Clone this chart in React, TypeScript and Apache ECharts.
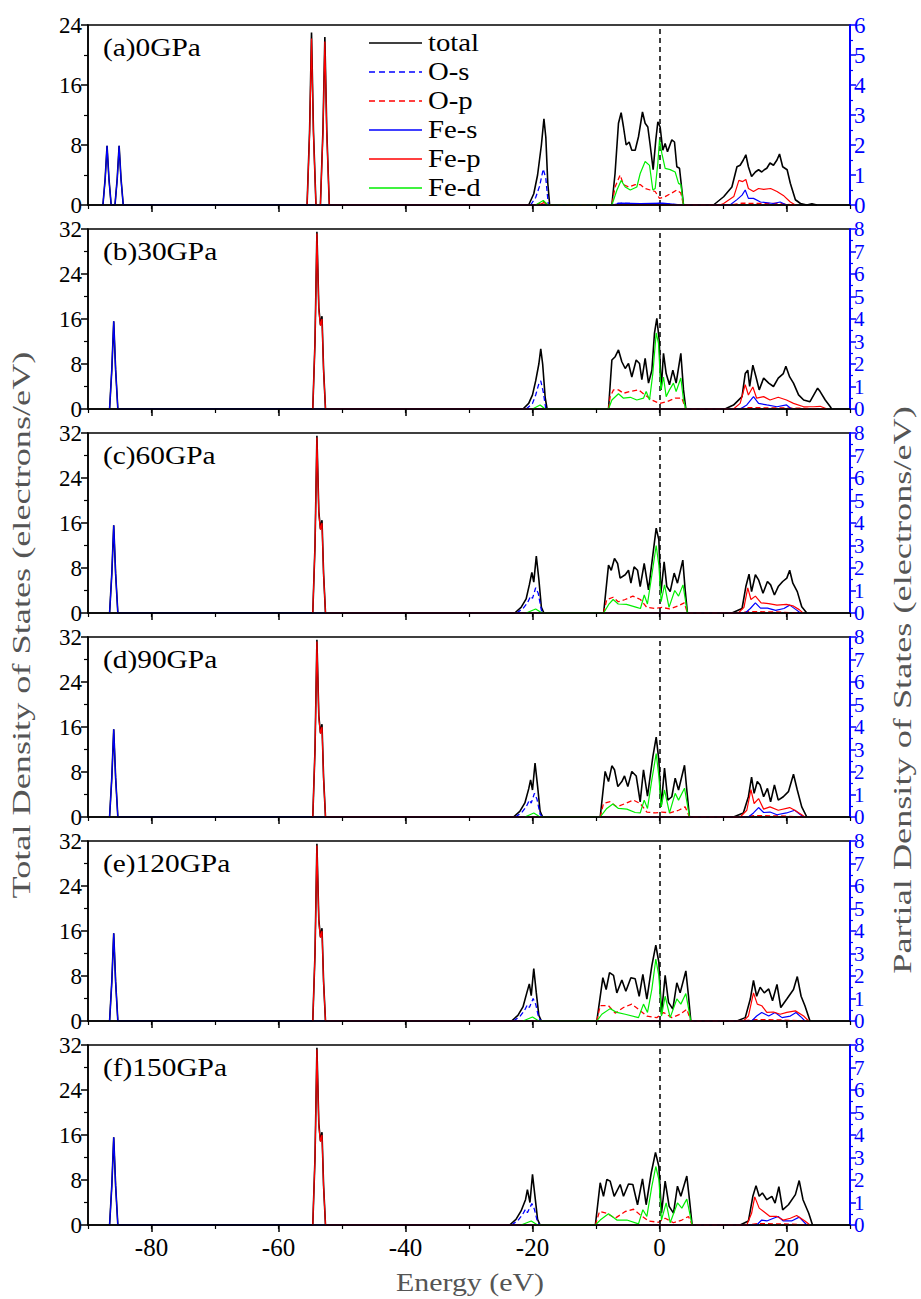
import React, { useEffect, useRef } from "react";
import * as echarts from "echarts";

type P = [number, number];

const FONT = "Liberation Serif";
const panelLabels = ["(a)0GPa", "(b)30GPa", "(c)60GPa", "(d)90GPa", "(e)120GPa", "(f)150GPa"];
const leftMax = [24, 32, 32, 32, 32, 32];
const rightMax = [6, 8, 8, 8, 8, 8];
const energyTicks = [-80, -60, -40, -20, 0, 20];
const seriesNames = ["total", "O-s", "O-p", "Fe-s", "Fe-p", "Fe-d"];

// ---------- core levels ----------
const coreTotalA: P[] = [
  [-87.65, 0], [-87.3, 3.5], [-87.0, 7.9], [-86.7, 3.5], [-86.35, 0],
  [-85.75, 0], [-85.4, 3.5], [-85.1, 7.9], [-84.8, 3.5], [-84.45, 0],
  [-55.5, 0], [-55.1, 10], [-54.8, 23.0], [-54.5, 10], [-54.1, 0],
  [-53.4, 0], [-53.0, 10], [-52.7, 22.4], [-52.4, 10], [-52.0, 0],
];
const coreFeSA: P[] = [
  [-87.65, 0], [-87.3, 0.85], [-87.0, 1.97], [-86.7, 0.85], [-86.35, 0],
  [-85.75, 0], [-85.4, 0.85], [-85.1, 1.97], [-84.8, 0.85], [-84.45, 0],
];
const coreFePA: P[] = [
  [-55.5, 0], [-55.1, 2.4], [-54.8, 5.55], [-54.5, 2.4], [-54.1, 0],
  [-53.4, 0], [-53.0, 2.4], [-52.7, 5.45], [-52.4, 2.4], [-52.0, 0],
];
const coreTotalHP: P[] = [
  [-86.6, 0], [-86.25, 7], [-85.95, 15.6], [-85.65, 7], [-85.3, 0],
  [-54.6, 0], [-54.25, 12], [-53.95, 31.5], [-53.65, 18], [-53.4, 15], [-53.15, 16.5], [-52.9, 7], [-52.6, 0],
];
const coreFeSHP: P[] = [[-86.6, 0], [-86.25, 1.75], [-85.95, 3.9], [-85.65, 1.75], [-85.3, 0]];
const coreFePHP: P[] = [
  [-54.6, 0], [-54.25, 3], [-53.95, 7.8], [-53.65, 4.4], [-53.4, 3.7], [-53.15, 4.0], [-52.9, 1.7], [-52.6, 0],
];

// ---------- panel (a) 0 GPa ----------
const totalA: P[] = [
  ...coreTotalA,
  [-20.6, 0], [-19.8, 1.5], [-19.2, 4], [-18.6, 8], [-18.2, 11.5], [-17.9, 9], [-17.6, 3], [-17.3, 0],
  [-7.5, 0], [-7.0, 4.2], [-6.46, 10.9], [-6.04, 12.3], [-5.67, 10.4], [-5.25, 8.0], [-4.78, 8.4], [-4.36, 7.3],
  [-3.83, 7.3], [-3.31, 9.1], [-2.68, 12.4], [-2.26, 10.9], [-1.84, 10.4], [-1.47, 8.0], [-1.0, 4.7], [-0.58, 8.7],
  [-0.26, 11.1], [0.1, 10.4], [0.52, 7.3], [0.89, 8.2], [1.26, 7.1], [1.94, 8.7], [2.36, 8.4], [2.73, 5.1],
  [3.15, 4.9], [3.78, 0],
  [8.5, 0], [10.1, 1.1], [11.4, 2.4], [12.2, 5.1], [12.7, 5.3], [13.2, 6.0], [13.6, 6.7], [14.0, 5.1], [14.5, 3.8],
  [15.1, 4.4], [15.6, 4.7], [16.1, 4.4], [16.5, 4.7], [16.9, 4.9], [17.4, 5.6], [17.95, 5.3], [18.5, 6.0], [18.9, 6.8],
  [19.4, 5.1], [20.1, 4.7], [20.6, 2.9], [21.4, 0.7], [22.2, 0.2], [23.2, 0], [24.0, 0.15], [24.8, 0],
];
const osA: P[] = [
  [-20.3, 0], [-19.5, 0.25], [-18.9, 0.62], [-18.3, 1.2], [-17.9, 0.88], [-17.5, 0],
  [-7.5, 0], [-6.5, 0.06], [-3.0, 0.04], [0, 0.05], [3.5, 0],
];
const opA: P[] = [
  [-19.5, 0], [-18.3, 0.12], [-17.5, 0],
  [-7.5, 0], [-7.0, 0.6], [-6.2, 1.0], [-5.67, 0.68], [-4.88, 0.6], [-3.83, 0.68], [-3.04, 0.68], [-2.26, 0.55],
  [-1.47, 0.5], [-0.68, 0.45], [0, 0.22], [0.89, 0.28], [1.94, 0.4], [2.73, 0.5], [3.36, 0.4], [3.78, 0],
  [11, 0], [13, 0.06], [16, 0.05], [19, 0.05], [21, 0],
];
const fesA: P[] = [
  ...coreFeSA,
  [-7.5, 0], [-6.0, 0.06], [-3.0, 0.05], [0.5, 0.06], [3.5, 0],
  [11.1, 0], [12.2, 0.18], [13.0, 0.33], [13.5, 0.5], [14.0, 0.22], [14.8, 0.22], [15.9, 0.1], [17.95, 0.05],
  [19.0, 0.1], [20.0, 0],
];
const fepA: P[] = [
  ...coreFePA,
  [-19.0, 0], [-18.2, 0.08], [-17.5, 0],
  [9.5, 0], [10.1, 0.05], [11.7, 0.28], [12.5, 0.82], [13.1, 0.78], [13.6, 0.85], [14.0, 0.55], [14.8, 0.45],
  [15.6, 0.55], [16.4, 0.52], [17.5, 0.55], [18.5, 0.45], [19.5, 0.32], [20.6, 0.1], [21.4, 0],
];
const fedA: P[] = [
  [-19.5, 0], [-18.3, 0.15], [-17.6, 0],
  [-7.5, 0], [-6.7, 0.5], [-6.04, 0.82], [-5.4, 0.6], [-4.6, 0.5], [-3.57, 0.6], [-3.04, 1.05], [-2.26, 1.45],
  [-1.57, 1.32], [-1.05, 0.5], [-0.68, 0.55], [-0.26, 1.4], [0, 2.18], [0.37, 1.72], [0.89, 1.22], [1.68, 1.18],
  [2.47, 1.1], [3.0, 0.72], [3.36, 0.68], [3.78, 0],
];

// ---------- panel (b) 30 GPa ----------
const totalB: P[] = [
  ...coreTotalHP,
  [-21.5, 0], [-20.6, 1], [-20.0, 2.5], [-19.5, 5], [-19.0, 8], [-18.7, 10.7], [-18.4, 8], [-18.0, 2], [-17.7, 0],
  [-8.03, 0], [-7.5, 8.7], [-6.98, 9.3], [-6.46, 10.5], [-5.93, 8.4], [-5.4, 7.2], [-4.88, 8.1], [-4.36, 5.7],
  [-3.67, 8.7], [-3.15, 8.1], [-2.78, 5.2], [-2.26, 9.0], [-1.73, 4.6], [-1.2, 6.9], [-0.79, 13.5], [-0.42, 16.1],
  [-0.05, 12.3], [0.26, 3.4], [0.63, 9.9], [1.05, 6.3], [1.57, 4.3], [2.1, 6.9], [2.62, 4.6], [3.36, 9.9],
  [3.78, 3.4], [4.15, 0],
  [10.3, 0], [11.65, 0.7], [13.0, 2.2], [13.5, 6.3], [13.9, 6.9], [14.2, 4.0], [14.7, 7.8], [15.2, 5.7], [15.7, 3.4],
  [16.4, 5.5], [17.2, 4.6], [17.95, 4.0], [18.7, 5.5], [19.5, 6.3], [19.9, 7.6], [20.5, 5.7], [21.1, 4.6], [21.9, 2.5],
  [22.7, 1.6], [23.7, 1.3], [24.9, 3.7], [25.3, 3.1], [26.1, 1.6], [26.9, 0.4], [27.1, 0],
];
const osB: P[] = [[-21.0, 0], [-20.0, 0.25], [-19.5, 0.62], [-19.0, 1.12], [-18.7, 1.25], [-18.3, 0.75], [-17.9, 0]];
const opB: P[] = [
  [-8.03, 0], [-7.77, 0.55], [-7.24, 0.85], [-6.46, 0.85], [-5.67, 0.7], [-4.6, 0.78], [-3.3, 0.85], [-2.26, 0.62],
  [-1.2, 0.4], [0, 0.25], [1.15, 0.32], [2.47, 0.48], [3.52, 0.48], [4.15, 0],
  [12, 0], [14, 0.06], [18, 0.05], [22, 0.04], [26, 0],
];
const fesB: P[] = [
  ...coreFeSHP,
  [12.7, 0], [13.75, 0.18], [14.8, 0.55], [15.6, 0.25], [16.9, 0.18], [18.5, 0.1], [20.0, 0.18], [20.8, 0],
];
const fepB: P[] = [
  ...coreFePHP,
  [11.65, 0], [12.7, 0.25], [13.5, 1.08], [14.0, 0.62], [14.7, 0.98], [15.3, 0.48], [16.4, 0.55], [17.4, 0.4],
  [18.7, 0.52], [20.0, 0.4], [21.1, 0.25], [22.7, 0.1], [24.3, 0.1], [25.3, 0.12], [26.4, 0],
];
const fedB: P[] = [
  [-20.0, 0], [-18.8, 0.18], [-18.0, 0],
  [-8.03, 0], [-7.5, 0.4], [-6.46, 0.68], [-5.67, 0.48], [-4.6, 0.52], [-3.57, 0.4], [-2.52, 0.48], [-2.1, 0.78],
  [-1.57, 0.4], [-1.05, 1.58], [-0.52, 3.38], [-0.16, 2.92], [0.21, 0.85], [0.63, 1.42], [1.05, 0.55], [1.57, 0.85],
  [2.2, 1.15], [2.62, 0.78], [3.36, 1.38], [3.78, 0.4], [4.15, 0],
];

// ---------- panel (c) 60 GPa ----------
const totalC: P[] = [
  ...coreTotalHP,
  [-22.8, 0], [-21.8, 1], [-21.0, 2.5], [-20.5, 5], [-20.1, 7.2], [-19.8, 5.5], [-19.4, 10.1], [-19.0, 6], [-18.6, 1], [-18.2, 0],
  [-8.8, 0], [-8.03, 8.5], [-7.6, 7.6], [-7.09, 9.7], [-6.6, 8.8], [-6.2, 6.2], [-5.4, 6.8], [-4.88, 7.6], [-4.5, 5.3],
  [-4.0, 8.2], [-3.46, 7.6], [-3.04, 4.7], [-2.41, 8.8], [-1.73, 4.1], [-1.05, 10.3], [-0.52, 15.1], [-0.1, 13.0],
  [0.21, 3.5], [0.73, 9.1], [1.15, 4.7], [1.68, 3.8], [2.31, 7.1], [2.83, 5.3], [3.67, 9.4], [4.04, 4.1], [4.4, 0],
  [11.4, 0], [13.0, 0.8], [13.6, 4.7], [14.1, 6.9], [14.5, 3.8], [15.1, 6.8], [15.6, 5.9], [16.3, 3.5], [17.0, 5.6],
  [17.5, 5.0], [18.1, 3.2], [18.7, 4.7], [19.4, 5.6], [20.05, 6.2], [20.5, 7.6], [21.0, 5.3], [21.7, 3.8], [22.4, 1.1],
  [23.2, 0],
];
const osC: P[] = [
  [-22.5, 0], [-21.5, 0.2], [-20.8, 0.45], [-20.3, 0.75], [-20.0, 0.65], [-19.5, 1.12], [-19.1, 0.88], [-18.6, 0.12], [-18.2, 0],
];
const opC: P[] = [
  [-8.8, 0], [-8.3, 0.6], [-7.3, 0.7], [-6.5, 0.5], [-5.4, 0.6], [-4.2, 0.75], [-3.0, 0.6], [-2.0, 0.25], [-0.7, 0.2],
  [0.4, 0.25], [1.6, 0.18], [3.0, 0.32], [3.9, 0.45], [4.4, 0],
  [12, 0], [14, 0.06], [18, 0.05], [22, 0],
];
const fesC: P[] = [
  ...coreFeSHP,
  [13.5, 0], [14.3, 0.2], [15.1, 0.45], [15.9, 0.22], [17.0, 0.22], [18.3, 0.12], [19.6, 0.2], [20.5, 0.35], [21.5, 0.15], [22.2, 0],
];
const fepC: P[] = [
  ...coreFePHP,
  [12.4, 0], [13.3, 0.25], [13.9, 1.12], [14.4, 0.6], [15.1, 0.75], [16.0, 0.45], [17.2, 0.42], [18.5, 0.35], [20.0, 0.38],
  [21.0, 0.32], [22.0, 0.15], [22.6, 0],
];
const fedC: P[] = [
  [-21.0, 0], [-19.5, 0.18], [-18.5, 0],
  [-8.8, 0], [-8.0, 0.38], [-7.3, 0.6], [-6.5, 0.4], [-5.2, 0.38], [-3.6, 0.25], [-3.0, 0.2], [-2.4, 0.8], [-1.9, 0.4],
  [-1.2, 1.7], [-0.52, 3.0], [-0.1, 2.12], [0.26, 0.5], [0.79, 1.25], [1.5, 0.25], [2.4, 1.0], [3.0, 0.75], [3.7, 1.25], [4.4, 0],
];

// ---------- panel (d) 90 GPa ----------
const totalD: P[] = [
  ...coreTotalHP,
  [-23.0, 0], [-22.0, 1], [-21.2, 2.5], [-20.6, 5], [-20.3, 6.6], [-20.0, 4.8], [-19.6, 9.6], [-19.2, 5.5], [-18.8, 1], [-18.4, 0],
  [-9.34, 0], [-8.56, 8.1], [-8.03, 6.3], [-7.5, 9.1], [-7.09, 8.4], [-6.56, 5.4], [-5.93, 6.3], [-5.51, 7.3], [-4.99, 5.4],
  [-4.36, 8.1], [-3.67, 7.3], [-3.04, 2.7], [-2.52, 8.4], [-1.89, 3.7], [-1.05, 10.7], [-0.52, 14.2], [-0.1, 10.1],
  [0.26, 1.8], [0.79, 8.7], [1.31, 3.0], [1.94, 3.6], [2.47, 6.9], [3.0, 4.8], [3.94, 9.2], [4.3, 4.8], [4.72, 0],
  [11.65, 0], [13.2, 0.7], [14.0, 3.6], [14.5, 7.1], [14.9, 4.2], [15.4, 6.3], [15.85, 5.7], [16.4, 3.6], [17.0, 5.1],
  [17.5, 2.7], [18.1, 5.7], [18.7, 3.0], [19.5, 3.6], [20.3, 4.5], [21.1, 7.6], [21.7, 4.8], [22.4, 1.8], [23.2, 0],
];
const osD: P[] = [
  [-22.7, 0], [-21.7, 0.2], [-21.0, 0.45], [-20.5, 0.75], [-20.2, 0.62], [-19.7, 1.05], [-19.3, 0.8], [-18.8, 0.12], [-18.4, 0],
];
const opD: P[] = [
  [-9.34, 0], [-8.82, 0.6], [-7.77, 0.68], [-6.72, 0.45], [-5.4, 0.6], [-4.1, 0.75], [-3.04, 0.6], [-1.99, 0.22],
  [-0.68, 0.18], [0.37, 0.22], [1.68, 0.18], [3.0, 0.3], [4.04, 0.45], [4.72, 0],
  [13, 0], [15, 0.06], [19, 0.05], [22.5, 0],
];
const fesD: P[] = [
  ...coreFeSHP,
  [14.0, 0], [14.8, 0.18], [15.6, 0.42], [16.4, 0.2], [17.4, 0.22], [18.5, 0.1], [20.0, 0.18], [21.3, 0.3], [22.2, 0.1], [22.7, 0],
];
const fepD: P[] = [
  ...coreFePHP,
  [12.7, 0], [13.75, 0.3], [14.4, 1.22], [14.9, 0.6], [15.6, 0.82], [16.4, 0.35], [17.4, 0.45], [18.7, 0.3], [20.5, 0.42],
  [21.3, 0.3], [22.4, 0.1], [22.9, 0],
];
const fedD: P[] = [
  [-21.2, 0], [-19.8, 0.18], [-18.8, 0],
  [-9.34, 0], [-8.3, 0.38], [-7.35, 0.58], [-6.46, 0.38], [-5.14, 0.35], [-3.83, 0.2], [-3.04, 0.18], [-2.41, 0.75],
  [-1.89, 0.38], [-1.21, 1.65], [-0.52, 2.82], [-0.1, 1.8], [0.26, 0.45], [0.79, 1.2], [1.57, 0.18], [2.47, 1.05],
  [3.0, 0.75], [3.94, 1.28], [4.72, 0],
];

// ---------- panel (e) 120 GPa ----------
const totalE: P[] = [
  ...coreTotalHP,
  [-23.3, 0], [-22.3, 1], [-21.5, 2.5], [-20.9, 5], [-20.5, 6.6], [-20.2, 4.5], [-19.8, 9.3], [-19.4, 5], [-19.0, 1], [-18.6, 0],
  [-9.87, 0], [-8.92, 7.7], [-8.4, 5.6], [-7.87, 8.6], [-7.24, 8.1], [-6.72, 5.0], [-5.93, 7.3], [-5.3, 5.3], [-4.51, 7.7],
  [-3.83, 7.5], [-3.2, 4.4], [-2.62, 8.3], [-1.99, 3.9], [-1.21, 9.8], [-0.58, 13.5], [-0.1, 10.4], [0.31, 1.2],
  [0.89, 8.1], [1.42, 3.3], [2.1, 2.1], [2.73, 6.8], [3.25, 5.0], [4.15, 8.9], [4.57, 4.4], [4.93, 0],
  [12.2, 0], [13.5, 0.6], [14.3, 3.9], [14.8, 7.2], [15.3, 4.4], [15.85, 6.0], [16.5, 5.0], [17.2, 5.7], [17.8, 3.6],
  [18.5, 6.5], [19.1, 2.4], [20.05, 3.9], [21.1, 5.6], [21.7, 7.9], [22.3, 4.4], [22.9, 2.7], [23.7, 0],
];
const osE: P[] = [
  [-23.0, 0], [-22.0, 0.2], [-21.3, 0.45], [-20.8, 0.72], [-20.5, 0.6], [-19.9, 1.0], [-19.5, 0.75], [-19.0, 0.12], [-18.6, 0],
];
const opE: P[] = [
  [-9.87, 0], [-9.34, 0.68], [-8.03, 0.68], [-6.98, 0.35], [-5.67, 0.6], [-4.36, 0.75], [-3.31, 0.52], [-1.99, 0.22],
  [-0.42, 0.15], [0.63, 0.38], [1.94, 0.15], [3.25, 0.3], [4.31, 0.52], [4.93, 0],
  [13, 0], [15, 0.06], [19, 0.05], [23, 0],
];
const fesE: P[] = [
  ...coreFeSHP,
  [14.5, 0], [15.3, 0.22], [16.1, 0.38], [17.2, 0.22], [18.2, 0.38], [19.3, 0.15], [20.6, 0.22], [21.5, 0.38], [22.4, 0.15], [22.9, 0],
];
const fepE: P[] = [
  ...coreFePHP,
  [13.2, 0], [14.0, 0.22], [14.8, 1.25], [15.4, 0.75], [16.1, 0.68], [16.9, 0.38], [17.95, 0.4], [19.0, 0.3], [20.05, 0.38],
  [21.4, 0.45], [22.7, 0.22], [23.5, 0],
];
const fedE: P[] = [
  [-21.5, 0], [-20.0, 0.18], [-19.0, 0],
  [-9.87, 0], [-9.08, 0.3], [-7.77, 0.55], [-6.72, 0.38], [-5.4, 0.3], [-3.31, 0.15], [-2.52, 0.75], [-1.89, 0.38],
  [-1.21, 1.4], [-0.58, 2.75], [-0.1, 2.0], [0.31, 0.22], [0.89, 1.1], [1.68, 0.15], [2.73, 0.98], [3.36, 0.75],
  [4.15, 1.22], [4.93, 0],
];

// ---------- panel (f) 150 GPa ----------
const totalF: P[] = [
  ...coreTotalHP,
  [-23.6, 0], [-22.6, 1], [-21.8, 2.5], [-21.1, 4.5], [-20.8, 6.3], [-20.4, 4], [-20.0, 9.0], [-19.6, 5], [-19.2, 1], [-18.8, 0],
  [-10.1, 0], [-9.34, 7.5], [-8.82, 5.1], [-8.29, 8.1], [-7.77, 7.8], [-7.14, 5.1], [-6.19, 7.2], [-5.67, 5.1], [-4.88, 7.3],
  [-4.2, 7.2], [-3.46, 3.6], [-2.68, 8.2], [-2.1, 3.6], [-1.31, 9.2], [-0.63, 12.9], [-0.1, 10.4], [0.31, 2.1],
  [0.89, 7.8], [1.52, 3.3], [2.2, 2.1], [2.83, 6.9], [3.36, 5.1], [4.3, 8.7], [4.72, 4.5], [5.14, 0],
  [12.7, 0], [14.0, 0.7], [14.7, 5.1], [15.2, 7.0], [15.7, 5.1], [16.2, 5.7], [16.9, 4.5], [17.7, 5.1], [18.2, 3.9],
  [18.8, 6.8], [19.4, 2.7], [20.3, 3.6], [21.4, 5.4], [22.0, 7.9], [22.6, 4.5], [23.5, 2.1], [24.1, 0],
];
const osF: P[] = [
  [-23.3, 0], [-22.3, 0.2], [-21.6, 0.45], [-21.1, 0.7], [-20.8, 0.55], [-20.1, 0.95], [-19.7, 0.7], [-19.2, 0.12], [-18.8, 0],
];
const opF: P[] = [
  [-10.1, 0], [-9.45, 0.6], [-8.29, 0.52], [-6.98, 0.3], [-5.4, 0.6], [-4.1, 0.7], [-3.04, 0.45], [-1.73, 0.18],
  [-0.16, 0.12], [0.89, 0.3], [2.2, 0.1], [3.52, 0.22], [4.57, 0.38], [5.14, 0],
  [13.5, 0], [15.5, 0.06], [19.5, 0.05], [23.5, 0],
];
const fesF: P[] = [
  ...coreFeSHP,
  [15.3, 0], [16.1, 0.22], [16.9, 0.18], [17.95, 0.3], [18.7, 0.38], [19.5, 0.18], [20.8, 0.18], [22.0, 0.35], [23.2, 0],
];
const fepF: P[] = [
  ...coreFePHP,
  [13.75, 0], [14.5, 0.52], [15.0, 1.25], [15.7, 0.75], [16.4, 0.6], [17.4, 0.38], [18.5, 0.38], [19.5, 0.22], [20.6, 0.3],
  [21.6, 0.42], [22.9, 0.18], [23.7, 0],
];
const fedF: P[] = [
  [-21.8, 0], [-20.2, 0.18], [-19.2, 0],
  [-10.1, 0], [-9.34, 0.22], [-8.03, 0.5], [-6.72, 0.22], [-5.14, 0.22], [-3.31, 0.05], [-2.62, 0.68], [-1.99, 0.38],
  [-1.21, 1.72], [-0.58, 2.6], [-0.1, 2.02], [0.31, 0.22], [1.05, 0.98], [1.68, 0.1], [2.83, 0.98], [3.52, 0.75],
  [4.3, 1.15], [5.14, 0],
];

const panelData: P[][][] = [
  [totalA, osA, opA, fesA, fepA, fedA],
  [totalB, osB, opB, fesB, fepB, fedB],
  [totalC, osC, opC, fesC, fepC, fedC],
  [totalD, osD, opD, fesD, fepD, fedD],
  [totalE, osE, opE, fesE, fepE, fedE],
  [totalF, osF, opF, fesF, fepF, fedF],
];

const seriesColors = ["#000000", "#0000ff", "#ff0000", "#0000ff", "#ff0000", "#00ee00"];
const seriesDashed = [false, true, true, false, false, false];
const seriesWidths = [1.6, 1.3, 1.3, 1.2, 1.2, 1.2];

const GRID_LEFT = 88;
const GRID_WIDTH = 762;
const GRID_TOP0 = 25;
const GRID_STEP = 204;
const GRID_H = 180;

export default function App() {
  const ref = useRef<HTMLDivElement>(null);
  useEffect(() => {
    if (!ref.current) return;
    const chart = echarts.init(ref.current, undefined, { renderer: "svg" });

    const grids: any[] = [];
    const xAxes: any[] = [];
    const yAxes: any[] = [];
    const series: any[] = [];
    const graphics: any[] = [];

    panelLabels.forEach((lab, i) => {
      const top = GRID_TOP0 + GRID_STEP * i;
      grids.push({
        left: GRID_LEFT, top, width: GRID_WIDTH, height: GRID_H,
        show: true, borderColor: "#000", borderWidth: 1.5, backgroundColor: "transparent",
      });
      xAxes.push({
        gridIndex: i, type: "value", min: -90, max: 30, interval: 10, position: "bottom", z: 10,
        axisLine: { show: true, onZero: false, lineStyle: { color: "#000", width: 1.5 } },
        axisTick: { show: true, inside: false, length: 7, customValues: energyTicks, lineStyle: { color: "#000", width: 1.5 } },
        axisLabel: {
          show: i === panelLabels.length - 1, customValues: energyTicks,
          fontFamily: FONT, fontSize: 25, color: "#000", margin: 10,
        },
        splitLine: { show: false },
      });
      xAxes.push({
        gridIndex: i, type: "value", min: -90, max: 30, interval: 10, position: "bottom", z: 10,
        axisLine: { show: false, onZero: false },
        axisTick: { show: true, inside: false, length: 4, lineStyle: { color: "#000", width: 1.2 } },
        axisLabel: { show: false },
        splitLine: { show: false },
      });
      yAxes.push({
        gridIndex: i, type: "value", min: 0, max: leftMax[i], interval: 8, position: "left", z: 10,
        axisLine: { show: true, onZero: false, lineStyle: { color: "#000", width: 1.5 } },
        axisTick: { show: true, inside: false, length: 7, lineStyle: { color: "#000", width: 1.5 } },
        minorTick: { show: true, splitNumber: 2, length: 4, lineStyle: { color: "#000", width: 1.2 } },
        axisLabel: { fontFamily: FONT, fontSize: 23, color: "#000", margin: 6 },
        splitLine: { show: false },
        minorSplitLine: { show: false },
      });
      yAxes.push({
        gridIndex: i, type: "value", min: 0, max: rightMax[i], interval: 1, position: "right", z: 10,
        axisLine: { show: true, onZero: false, lineStyle: { color: "#0000ff", width: 2 } },
        axisTick: { show: true, inside: false, length: 6, lineStyle: { color: "#0000ff", width: 1.5 } },
        minorTick: { show: true, splitNumber: 2, length: 3, lineStyle: { color: "#0000ff", width: 1.2 } },
        axisLabel: { fontFamily: FONT, fontSize: i === 0 ? 23 : 21, color: "#0000ff", margin: 4 },
        splitLine: { show: false },
        minorSplitLine: { show: false },
      });

      panelData[i].forEach((data, k) => {
        const s: any = {
          type: "line",
          name: seriesNames[k],
          xAxisIndex: 2 * i,
          yAxisIndex: k === 0 ? 2 * i : 2 * i + 1,
          data,
          symbol: "none",
          showSymbol: false,
          silent: true,
          smooth: false,
          z: 2 + k,
          lineStyle: {
            color: seriesColors[k],
            width: seriesWidths[k],
            type: seriesDashed[k] ? [5, 3] : "solid",
          },
        };
        if (k === 0) {
          s.markLine = {
            silent: true,
            symbol: ["none", "none"],
            label: { show: false },
            lineStyle: { color: "#000", width: 1.5, type: [5, 4] },
            data: [{ xAxis: 0 }],
          };
        }
        series.push(s);
      });

      graphics.push({
        type: "text", x: 103, y: top + 22, scaleX: 1.13,
        style: { text: lab, font: `26px "${FONT}"`, fill: "#000", textVerticalAlign: "middle" },
      });
    });

    // legend
    seriesNames.forEach((nm, k) => {
      const y = 43 + 29 * k;
      graphics.push({
        type: "line",
        shape: { x1: 369, y1: y, x2: 422, y2: y },
        style: {
          stroke: seriesColors[k], lineWidth: 1.6,
          lineDash: seriesDashed[k] ? [6, 4] : null,
        },
      });
      graphics.push({
        type: "text", x: 428, y, scaleX: 1.15,
        style: { text: nm, font: `25px "${FONT}"`, fill: "#000", textVerticalAlign: "middle", textAlign: "left" },
      });
    });

    graphics.push({
      type: "text", x: 22, y: 625, rotation: Math.PI / 2, scaleX: 1.45,
      style: {
        text: "Total Density of States (electrons/eV)", font: `25px "${FONT}"`, fill: "#555",
        textAlign: "center", textVerticalAlign: "middle",
      },
    });
    graphics.push({
      type: "text", x: 903, y: 690, rotation: Math.PI / 2, scaleX: 1.45,
      style: {
        text: "Partial Density of States (electrons/eV)", font: `25px "${FONT}"`, fill: "#555",
        textAlign: "center", textVerticalAlign: "middle",
      },
    });
    graphics.push({
      type: "text", x: 470, y: 1282, scaleX: 1.15,
      style: {
        text: "Energy (eV)", font: `26px "${FONT}"`, fill: "#555",
        textAlign: "center", textVerticalAlign: "middle",
      },
    });

    chart.setOption({
      animation: false,
      backgroundColor: "#fff",
      grid: grids,
      xAxis: xAxes,
      yAxis: yAxes,
      series,
      graphic: graphics,
    });
    return () => chart.dispose();
  }, []);

  return (
    <div
      ref={ref}
      style={{ position: "fixed", left: 0, top: 0, width: 921, height: 1299, background: "#fff" }}
    />
  );
}
